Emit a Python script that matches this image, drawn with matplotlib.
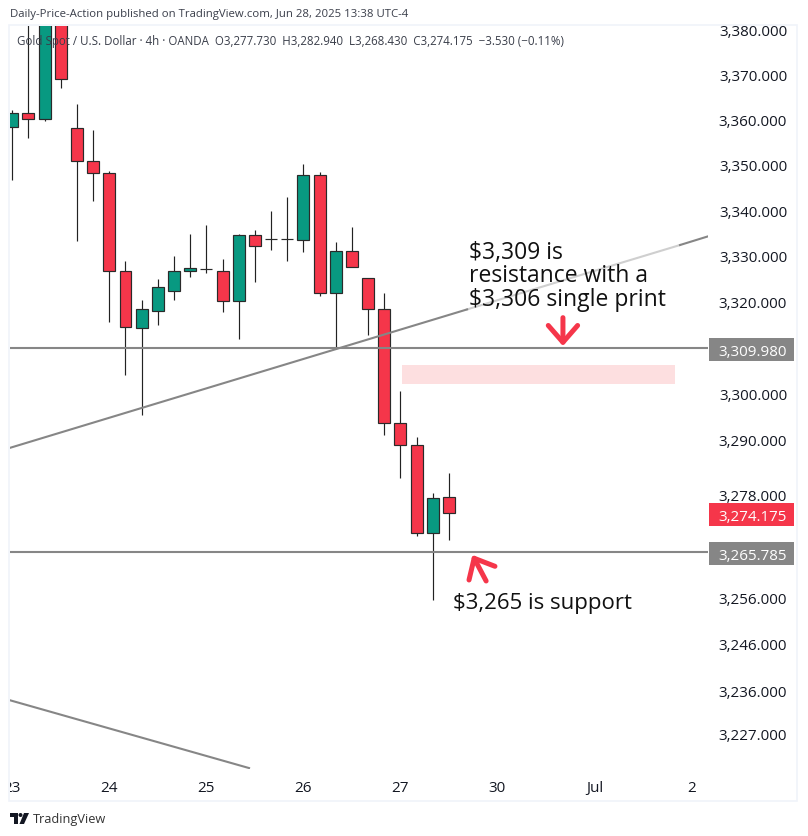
import matplotlib
matplotlib.use("Agg")
import numpy as np
import matplotlib.pyplot as plt
from matplotlib.patches import Rectangle, Circle, Polygon
from matplotlib.ticker import NullLocator, NullFormatter
from matplotlib.transforms import Bbox, IdentityTransform, ScaledTranslation

W, H = 808, 837

# 4h candles
opens = [3358.4, 3361.5, 3360.2, 3392.0, 3358.2, 3350.9, 3348.3, 3326.9, 3314.4, 3318.1, 3322.5, 3326.9, 3327.3, 3326.9,
         3320.3, 3334.6, 3333.9, 3333.8, 3333.7, 3348.0, 3321.9, 3331.1, 3325.2, 3318.6, 3293.7, 3289.0, 3270.0, 3277.73]
highs = [3362.2, 3400.0, 3400.0, 3400.0, 3363.5, 3357.8, 3348.7, 3328.9, 3320.5, 3325.0, 3330.0, 3335.0, 3337.0, 3329.5,
         3335.0, 3335.9, 3339.9, 3343.0, 3350.3, 3348.5, 3333.1, 3336.4, 3325.2, 3321.9, 3300.7, 3290.7, 3278.6, 3282.94]
lows = [3346.9, 3356.0, 3359.8, 3367.1, 3333.3, 3342.1, 3315.7, 3304.2, 3295.5, 3315.0, 3320.5, 3325.6, 3326.3, 3317.9,
        3312.0, 3324.5, 3331.3, 3329.1, 3330.9, 3321.4, 3309.8, 3327.6, 3312.9, 3291.1, 3281.8, 3269.3, 3255.5, 3268.43]
closes = [3361.5, 3360.2, 3395.0, 3369.1, 3350.9, 3348.3, 3326.9, 3314.6, 3318.4, 3323.2, 3326.7, 3327.4, 3327.2, 3320.3,
          3334.6, 3332.2, 3333.8, 3333.9, 3348.0, 3321.9, 3331.1, 3327.6, 3318.6, 3293.7, 3289.0, 3270.0, 3277.5, 3274.175]

y_ticks = [3380, 3370, 3360, 3350, 3340, 3330, 3320, 3300, 3290, 3278, 3256, 3246, 3236, 3227]
x_ticks = [0, 6, 12, 18, 24, 30, 36, 42]
x_labels = ["23", "24", "25", "26", "27", "30", "Jul", "2"]

# trend lines: x in bars, y in price
trend_up_x = [-0.14, 28.12, 41.29, 43.02]
trend_up_y = [3288.3, 3318.4, 3332.5, 3334.4]
trend_down_x = [-0.14, 14.64]
trend_down_y = [3234.1, 3219.7]

resistance = 3309.98
support = 3265.785
last_close = 3274.175
zone_x = [24.1, 41.0]
zone_y = [3302.2, 3306.35]

RED = "#f5364a"
GREEN = "#089981"
GRAY = "#868686"
TEXT = "#131722"

plt.rcParams["font.family"] = ["Open Sans", "DejaVu Sans"]

fig = plt.figure(figsize=(W / 100, H / 100), dpi=100, facecolor="white")
ax = fig.add_axes([10 / W, 1 - 770 / H, 698 / W, 743 / H])
ax.set_yscale("log")
ax.set_xlim(-0.142, 43.02)
ax.set_ylim(3219.5, 3380.9)
for s in ax.spines.values():
    s.set_visible(False)

# candles
x = np.arange(len(opens))
opens_a, closes_a = np.array(opens), np.array(closes)
colors = [GREEN if c > o else RED for o, c in zip(opens, closes)]
ax.vlines(x, lows, highs, color="#222222", lw=0.85, zorder=2)
ax.bar(x, np.abs(closes_a - opens_a), width=0.74, bottom=np.minimum(opens_a, closes_a), color=colors,
       edgecolor="#2a2a2a", linewidth=0.85, zorder=3)

# levels and trend lines
ax.axhline(resistance, color=GRAY, lw=1.5, zorder=4)
ax.axhline(support, color=GRAY, lw=1.5, zorder=4)
ax.plot(trend_up_x[:2], trend_up_y[:2], color=GRAY, lw=1.5, zorder=4)
ax.plot(trend_up_x[1:3], trend_up_y[1:3], color="#cfcfcf", lw=1.5, zorder=1)
ax.plot(trend_up_x[2:], trend_up_y[2:], color=GRAY, lw=1.5, zorder=1)
ax.plot(trend_down_x, trend_down_y, color=GRAY, lw=1.5, zorder=4)
ax.fill_between(zone_x, zone_y[0], zone_y[1], color="#fddfe0", lw=0, zorder=1)

# arrows
arrow_style = dict(arrowstyle="->,head_length=0.55,head_width=0.48", color=RED, lw=3.6,
                   mutation_scale=22, shrinkA=0, shrinkB=0, capstyle="round", joinstyle="round")
ax.annotate("", xy=(34.05, 3310.4), xytext=(34.05, 3316.6), zorder=5, arrowprops=arrow_style)
ax.annotate("", xy=(28.45, 3265.2), xytext=(29.3, 3259.6), zorder=5, arrowprops=arrow_style)

# axes ticks
ax.yaxis.tick_right()
ax.set_yticks(y_ticks)
ax.set_yticklabels([f"{v:,.3f}" for v in y_ticks])
ax.yaxis.set_minor_locator(NullLocator())
ax.yaxis.set_minor_formatter(NullFormatter())
ax.tick_params(axis="y", length=0, pad=57, labelsize=10.9, labelcolor=TEXT)
ax.set_xticks(x_ticks)
ax.set_xticklabels(x_labels)
ax.tick_params(axis="x", length=0, pad=8, labelsize=11, labelcolor=TEXT)
clip = Bbox.from_extents(10, H - 802, 797, H - 27)
# scale text sits a touch above the true price in the reference
up = ScaledTranslation(0, 0.5 / 100, fig.dpi_scale_trans)
for lab in ax.get_yticklabels():
    lab.set_ha("right")
    lab.set_transform(lab.get_transform() + up)
    lab.set_clip_box(clip)
    lab.set_clip_on(True)
for lab in ax.get_xticklabels():
    lab.set_clip_box(clip)
    lab.set_clip_on(True)


# price tags on the right scale
def tag(price, color):
    yd = ax.transData.transform((0, price))[1] - 1
    fig.add_artist(Rectangle((709, yd - 11.5), 85, 23, transform=IdentityTransform(), facecolor=color, edgecolor="none"))
    fig.text(787 / W, yd / H, f"{price:,.3f}", color="white", fontsize=10.9, ha="right", va="center_baseline")


tag(resistance, GRAY)
tag(last_close, RED)
tag(support, GRAY)

# header, legend, annotations
fig.text(10 / W, 1 - 14 / H, "Daily-Price-Action published on TradingView.com, Jun 28, 2025 13:38 UTC-4",
         fontsize=8.2, color="#3a3e4a", va="center")
fig.text(17 / W, 1 - 41 / H,
         "Gold Spot / U.S. Dollar · 4h · OANDA  O3,277.730  H3,282.940  L3,268.430  C3,274.175  −3.530 (−0.11%)",
         fontsize=8.31, color="#3a3e4a", va="center", zorder=10)
fig.text(469 / W, 1 - 252.5 / H, "$3,309 is", fontsize=16.5, color="#111111", va="center")
fig.text(469 / W, 1 - 276.5 / H, "resistance with a", fontsize=16.5, color="#111111", va="center")
fig.text(469 / W, 1 - 300.5 / H, "$3,306 single print", fontsize=16.5, color="#111111", va="center")
fig.text(453 / W, 1 - 603.5 / H, "$3,265 is support", fontsize=16.05, color="#111111", va="center")

# chart frame
fig.add_artist(Rectangle((9 / W, 1 - 802 / H), 788 / W, 776 / H, transform=fig.transFigure, fill=False,
                         edgecolor="#f0f3fa", lw=1.2))

# TradingView logo
fig.add_artist(Polygon([(10, H - 814), (18, H - 814), (18, H - 825), (14, H - 825), (14, H - 818), (10, H - 818)],
                       closed=True, transform=IdentityTransform(), facecolor="#131722", edgecolor="none"))
fig.add_artist(Circle((20.5, H - 816), 2, transform=IdentityTransform(), facecolor="#131722", edgecolor="none"))
fig.add_artist(Polygon([(24, H - 814), (29, H - 814), (24, H - 825), (19.5, H - 825)],
                       closed=True, transform=IdentityTransform(), facecolor="#131722", edgecolor="none"))
fig.text(33 / W, 1 - 820 / H, "TradingView", fontsize=9.2, color="#333333", va="center")

fig.savefig("out.png", dpi=100)
